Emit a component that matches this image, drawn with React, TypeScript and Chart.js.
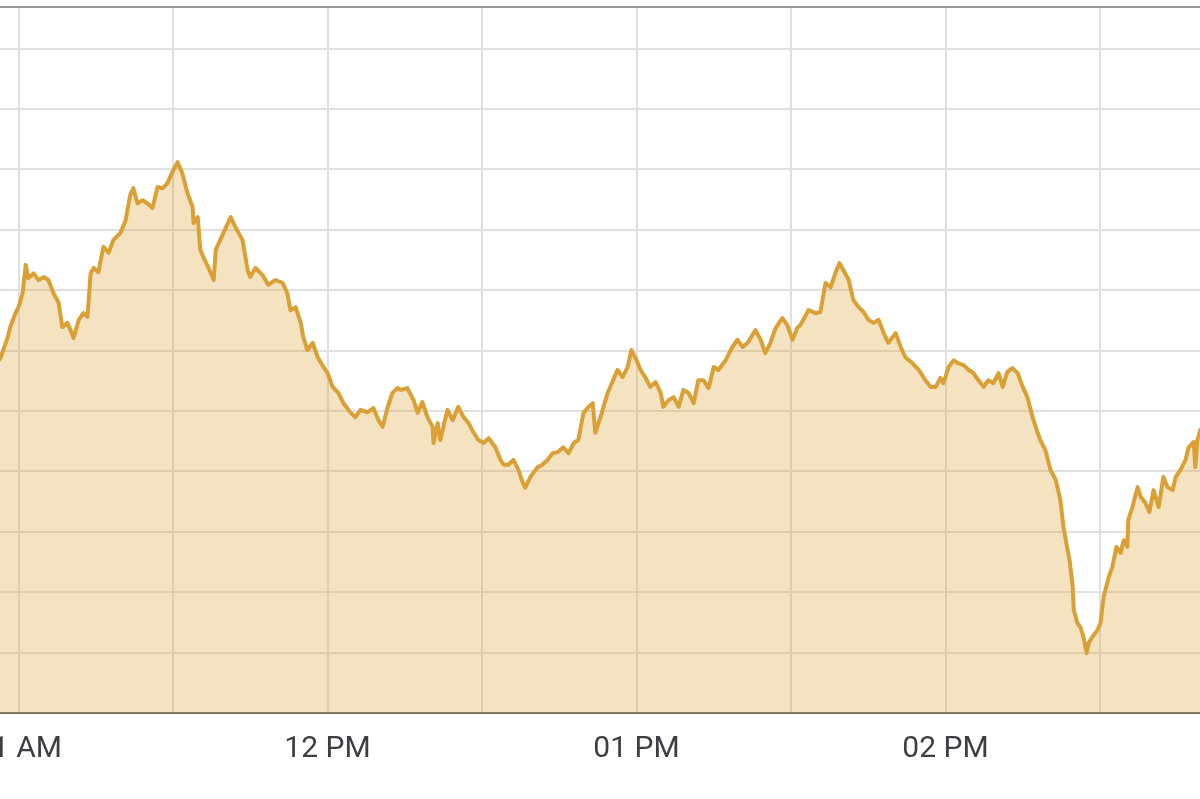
import { useEffect, useRef } from "react";
import { Chart, registerables } from "chart.js";

Chart.register(...registerables);

// Minutes after 11:00 AM
const times = [
  -4.5, -3.5, -2.1, -1.6, -0.6, 0, 0.8, 1.4, 1.9, 2.9, 3.9, 4.9, 5.8, 6.8, 7.8, 8.5, 9.5, 10.1, 10.7, 11.7,
  12.6, 13.4, 14.0, 14.6, 15.5, 16.5, 17.5, 18.4, 19.8, 20.8, 21.7, 22.3, 23.1, 24.1, 25.0, 26.0, 27.0, 28.0, 28.9, 29.9,
  30.9, 31.8, 32.8, 33.8, 34.0, 34.8, 35.3, 35.9, 36.9, 37.9, 38.3, 39.8, 41.2, 42.1, 43.5, 44.5, 45.0, 46.0, 47.4, 48.5,
  49.9, 51.3, 52.2, 52.8, 53.8, 54.8, 55.3, 56.1, 57.1, 58.1, 59.0, 60.0, 61.0, 62.1, 63.1, 64.5, 65.4, 66.4, 67.8, 68.9,
  69.9, 70.7, 71.7, 72.6, 73.6, 74.2, 75.5, 76.7, 77.5, 78.4, 79.4, 80.4, 80.6, 81.4, 81.9, 83.3, 84.3, 85.4, 86.4, 87.4,
  88.3, 89.3, 90.3, 91.3, 92.6, 93.6, 94.2, 95.1, 96.1, 97.1, 97.9, 98.4, 99.4, 100.8, 101.7, 102.7, 103.7, 104.7, 105.8, 106.8,
  107.8, 108.7, 109.7, 110.7, 111.5, 112.0, 113.0, 114.4, 116.3, 117.3, 118.3, 119.0, 119.8, 120.8, 121.7, 122.7, 123.7, 124.7, 125.2, 126.2,
  127.2, 128.2, 129.1, 130.1, 131.1, 132.0, 133.0, 134.0, 135.0, 135.9, 137.3, 138.6, 139.6, 140.6, 141.6, 143.1, 144.1, 145.0, 146.0, 147.0,
  148.3, 149.3, 150.3, 151.3, 151.8, 153.4, 154.8, 155.7, 156.7, 157.7, 158.6, 159.4, 160.2, 161.2, 162.1, 163.1, 164.1, 165.0, 166.0, 167.0,
  168.0, 168.9, 170.3, 171.3, 172.2, 173.6, 174.8, 176.1, 177.1, 178.1, 179.0, 179.6, 180.6, 181.6, 182.5, 183.5, 184.5, 185.4, 186.4, 187.4,
  188.3, 189.3, 190.3, 191.1, 192.0, 193.0, 194.0, 195.0, 195.9, 196.9, 197.9, 198.4, 199.4, 200.4, 201.4, 202.3, 202.9, 203.7, 204.1, 204.7,
  204.9, 205.6, 206.2, 206.8, 207.4, 207.8, 208.5, 209.5, 210.1, 210.7, 211.7, 212.4, 213.2, 214.0, 214.6, 215.3, 215.5, 216.3, 217.3, 217.9,
  218.8, 219.6, 220.4, 221.4, 222.3, 223.1, 224.1, 224.7, 225.6, 226.6, 227.2, 228.2, 228.5, 228.9, 229.5, 231.5,
];

const values = [
  5.76, 5.88, 6.22, 6.39, 6.62, 6.72, 6.95, 7.42, 7.20, 7.28, 7.17, 7.22, 7.17, 6.95, 6.79, 6.39, 6.46, 6.34, 6.21, 6.51,
  6.62, 6.56, 7.28, 7.37, 7.30, 7.72, 7.62, 7.83, 7.95, 8.16, 8.58, 8.69, 8.44, 8.49, 8.44, 8.36, 8.71, 8.69, 8.77, 8.96,
  9.12, 8.94, 8.61, 8.38, 8.11, 8.21, 7.67, 7.55, 7.37, 7.17, 7.67, 7.95, 8.21, 8.05, 7.83, 7.33, 7.22, 7.37, 7.25, 7.09,
  7.17, 7.12, 6.95, 6.67, 6.72, 6.46, 6.22, 6.01, 6.13, 5.89, 5.76, 5.63, 5.40, 5.30, 5.13, 4.97, 4.90, 5.02, 4.98, 5.05,
  4.85, 4.74, 5.07, 5.30, 5.38, 5.35, 5.38, 5.18, 4.97, 5.15, 4.90, 4.74, 4.47, 4.80, 4.52, 5.02, 4.85, 5.07, 4.90, 4.80,
  4.65, 4.52, 4.47, 4.55, 4.40, 4.19, 4.11, 4.11, 4.19, 4.02, 3.82, 3.73, 3.91, 4.07, 4.11, 4.19, 4.30, 4.32, 4.40, 4.30,
  4.47, 4.52, 4.97, 5.07, 5.13, 4.64, 4.90, 5.30, 5.68, 5.56, 5.73, 6.01, 5.88, 5.68, 5.56, 5.40, 5.48, 5.30, 5.07, 5.18,
  5.23, 5.07, 5.35, 5.30, 5.13, 5.51, 5.51, 5.38, 5.73, 5.68, 5.84, 6.06, 6.18, 6.06, 6.13, 6.34, 6.18, 5.96, 6.13, 6.37,
  6.54, 6.42, 6.18, 6.39, 6.42, 6.67, 6.62, 6.64, 7.12, 7.05, 7.28, 7.45, 7.33, 7.17, 6.84, 6.72, 6.64, 6.51, 6.46, 6.51,
  6.29, 6.13, 6.29, 6.06, 5.89, 5.79, 5.68, 5.51, 5.40, 5.40, 5.55, 5.46, 5.73, 5.84, 5.79, 5.76, 5.68, 5.63, 5.51, 5.40,
  5.51, 5.46, 5.63, 5.40, 5.65, 5.71, 5.63, 5.40, 5.23, 4.90, 4.64, 4.52, 4.35, 4.02, 3.86, 3.53, 3.08, 2.70, 2.53, 2.09,
  1.71, 1.49, 1.42, 1.26, 0.99, 1.16, 1.26, 1.37, 1.49, 1.92, 2.25, 2.42, 2.75, 2.65, 2.86, 2.75, 3.20, 3.41, 3.74, 3.58,
  3.48, 3.33, 3.69, 3.41, 3.91, 3.74, 3.69, 3.91, 4.02, 4.19, 4.40, 4.49, 4.07, 4.52, 4.69, 4.77,
];

const hourLabels = ["11 AM", "12 PM", "01 PM", "02 PM", "03 PM"];

const X_MIN = -30;
const X_MAX = 270;
const Y_MIN = 0;
const Y_MAX = 11.69;

const topBorder = {
  id: "topBorder",
  afterDraw(chart: any) {
    const { ctx, chartArea } = chart;
    ctx.save();
    ctx.strokeStyle = "#9a9a9a";
    ctx.lineWidth = 2;
    ctx.beginPath();
    ctx.moveTo(chartArea.left, chartArea.top);
    ctx.lineTo(chartArea.right, chartArea.top);
    ctx.stroke();
    ctx.restore();
  },
};

export default function App() {
  const ref = useRef<HTMLCanvasElement | null>(null);

  useEffect(() => {
    if (!ref.current) return;
    const data = times.map((t, i) => ({ x: t, y: values[i] }));
    const chart = new Chart(ref.current, {
      type: "line",
      data: {
        datasets: [
          {
            data,
            borderColor: "#dba035",
            backgroundColor: "rgba(218,160,48,0.3)",
            borderWidth: 4,
            pointRadius: 0,
            tension: 0,
            fill: "start",
            borderJoinStyle: "round",
          },
        ],
      },
      options: {
        animation: false,
        responsive: false,
        layout: { padding: { top: 7, bottom: 14, left: 0, right: 0 } },
        plugins: { legend: { display: false }, tooltip: { enabled: false } },
        scales: {
          x: {
            type: "linear",
            min: X_MIN,
            max: X_MAX,
            grid: { color: "#e0e0e0", lineWidth: 2, drawTicks: false },
            border: { display: true, color: "#6e6e6e", width: 2 },
            ticks: {
              stepSize: 30,
              autoSkip: false,
              maxRotation: 0,
              padding: 18,
              color: "#3d3d45",
              font: { family: "Roboto", size: 30 },
              callback: (v: any) => {
                const n = Number(v);
                if (n >= 0 && n % 60 === 0) return hourLabels[n / 60] ?? "";
                return "";
              },
            },
          },
          y: {
            min: Y_MIN,
            max: Y_MAX,
            grid: { color: "#e0e0e0", lineWidth: 2, drawTicks: false },
            border: { display: false },
            ticks: { display: false, stepSize: 1 },
            afterFit: (s: any) => {
              s.width = 0;
            },
          },
        },
      },
      plugins: [topBorder],
    });
    return () => chart.destroy();
  }, []);

  return (
    <div
      style={{
        position: "fixed",
        left: 0,
        top: 0,
        width: 1200,
        height: 799,
        overflow: "hidden",
        background: "#fff",
      }}
    >
      <canvas
        ref={ref}
        width={1581}
        height={799}
        style={{ position: "absolute", left: -154, top: 0, width: 1581, height: 799 }}
      />
    </div>
  );
}
